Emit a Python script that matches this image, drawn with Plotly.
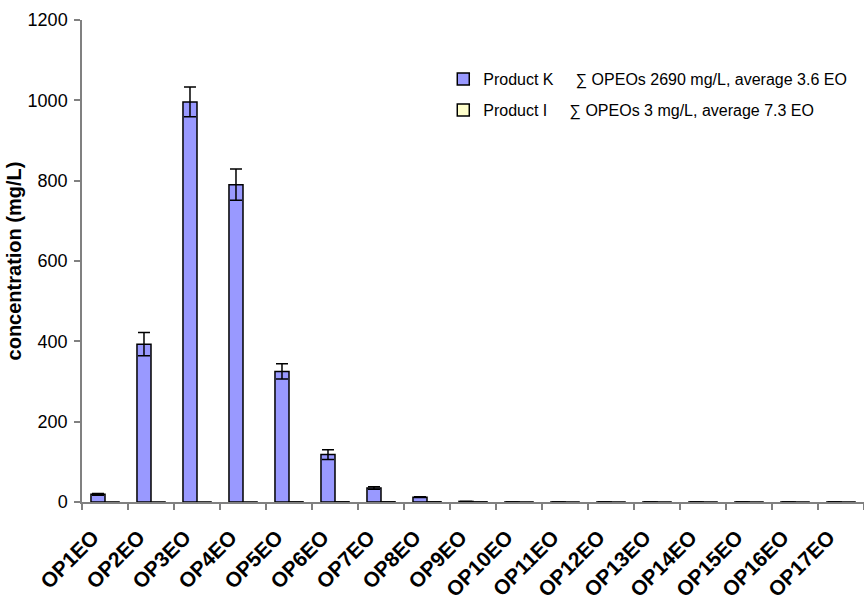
import plotly.graph_objects as go

# OPEO homologue concentrations (mg/L) in two technical products
categories = [f"OP{i}EO" for i in range(1, 18)]
product_k = [19, 393, 996, 790, 325, 118, 35, 12, 1.5, 0.2, 0.2, 0.2, 0.2, 0.2, 0.2, 0.2, 0.2]
product_k_err = [2, 29, 37, 39, 19, 12, 3, 1, 0, 0, 0, 0, 0, 0, 0, 0, 0]
product_i = [0.1, 0.1, 0.1, 0.1, 0.4, 0.5, 0.5, 0.5, 0.4, 0.1, 0.05, 0.05, 0.05, 0.05, 0.05, 0.05, 0.05]

name_k = "Product K\u00a0\u00a0\u00a0\u00a0 \u2211 OPEOs 2690 mg/L, average 3.6 EO"
name_i = "Product I\u00a0\u00a0\u00a0\u00a0 \u2211 OPEOs 3 mg/L, average 7.3 EO"

font_family = "Liberation Sans, Arial, sans-serif"

fig = go.Figure()
fig.add_trace(go.Bar(
    x=categories, y=product_k, name=name_k, legendgroup="k",
    marker=dict(color="#9999FF", line=dict(color="black", width=1.5)),
    error_y=dict(type="data", array=product_k_err, visible=True,
                 color="black", thickness=1.5, width=6),
))
fig.add_trace(go.Bar(
    x=categories, y=product_i, name=name_i, legendgroup="i",
    marker=dict(color="#FFFFCC", line=dict(color="black", width=1.5)),
))

fig.update_layout(
    width=864, height=608,
    margin=dict(l=82, r=0, t=20, b=106, autoexpand=False),
    paper_bgcolor="white", plot_bgcolor="white",
    barmode="group", bargap=0.39, bargroupgap=0,
    font=dict(family=font_family, color="black"),
    showlegend=True,
    legend=dict(
        x=0.462, y=0.9125, xanchor="left", yanchor="top",
        font=dict(size=16, family=font_family),
        bgcolor="rgba(0,0,0,0)", borderwidth=0,
        traceorder="grouped", tracegroupgap=7,
    ),
)

fig.update_xaxes(
    type="category",
    showline=True, linecolor="#808080", linewidth=1.5,
    ticks="outside", tickson="boundaries", ticklen=6,
    tickcolor="#808080", tickwidth=1.5,
    tickangle=-45, ticklabelstandoff=13, ticklabelshift=-12,
    tickfont=dict(size=21, family=font_family, weight="bold"),
    showgrid=False, zeroline=False,
)
fig.update_yaxes(
    range=[0, 1200], dtick=200,
    showline=True, linecolor="#808080", linewidth=1.5,
    ticks="outside", ticklen=6, tickcolor="#808080", tickwidth=1.5,
    ticklabelstandoff=3,
    tickfont=dict(size=18, family=font_family),
    showgrid=False, zeroline=False,
    title=dict(text="concentration (mg/L)",
               font=dict(size=20, family=font_family, weight="bold"),
               standoff=1),
)

fig.write_html("out.html")
